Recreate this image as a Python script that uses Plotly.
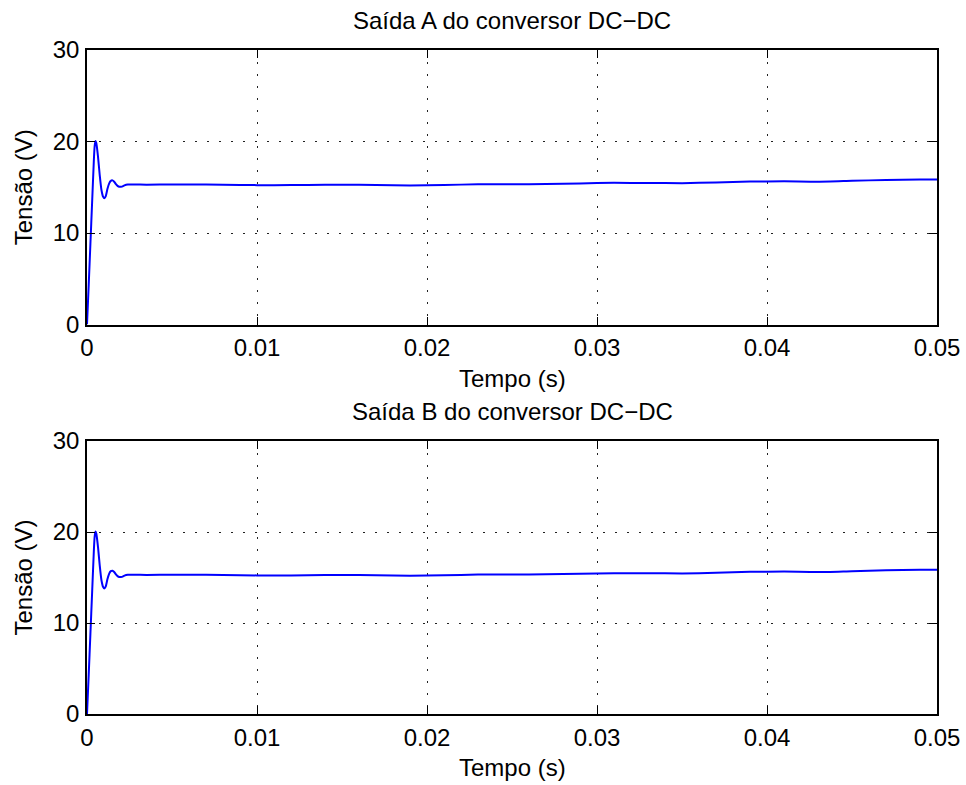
import plotly.graph_objects as go
from plotly.subplots import make_subplots

# time in seconds
t_s = [0, 0.0001, 0.0002, 0.0003, 0.0004, 0.00045, 0.0005, 0.00055, 0.00065, 0.00075,
       0.00085, 0.00095, 0.00102, 0.0011, 0.0012, 0.0013, 0.0014, 0.0015, 0.0016, 0.0017,
       0.0018, 0.0019, 0.002, 0.0021, 0.0022, 0.0024, 0.0027, 0.0035, 0.005, 0.007,
       0.009, 0.011, 0.013, 0.015, 0.017, 0.019, 0.021, 0.023, 0.025, 0.027,
       0.029, 0.031, 0.033, 0.035, 0.037, 0.039, 0.041, 0.043, 0.045, 0.047,
       0.049, 0.05]

saida_a = [0, 4.3, 8.8, 13.3, 17.8, 19.5, 20.05, 19.8, 18.3, 16.3,
           14.7, 13.95, 13.8, 14.0, 14.8, 15.4, 15.7, 15.75, 15.6, 15.35,
           15.15, 15.05, 15.05, 15.1, 15.2, 15.3, 15.3, 15.28, 15.3, 15.3,
           15.25, 15.22, 15.25, 15.28, 15.25, 15.2, 15.25, 15.32, 15.33, 15.35,
           15.42, 15.48, 15.47, 15.45, 15.52, 15.62, 15.65, 15.6, 15.7, 15.8,
           15.85, 15.85]

saida_b = [0, 4.3, 8.8, 13.3, 17.8, 19.5, 20.05, 19.8, 18.3, 16.3,
           14.7, 13.95, 13.8, 14.0, 14.8, 15.4, 15.7, 15.75, 15.6, 15.35,
           15.15, 15.05, 15.05, 15.1, 15.2, 15.3, 15.3, 15.28, 15.3, 15.3,
           15.25, 15.22, 15.25, 15.28, 15.25, 15.2, 15.25, 15.32, 15.33, 15.35,
           15.42, 15.48, 15.47, 15.45, 15.52, 15.62, 15.65, 15.6, 15.7, 15.8,
           15.85, 15.85]

x_ticks = [0, 0.01, 0.02, 0.03, 0.04, 0.05]
x_tick_labels = ["0", "0.01", "0.02", "0.03", "0.04", "0.05"]
y_ticks = [0, 10, 20, 30]

titles = ["Saída A do conversor DC−DC", "Saída B do conversor DC−DC"]
x_title = "Tempo (s)"
y_title = "Tensão (V)"

FONT = "Liberation Sans, Arial, Helvetica, sans-serif"
FS = 24

W, H = 966, 785
L, R = 87, 937
T, B = 50, 714
PH = B - T
PW = R - L

def py(p):
    return (B - p) / PH

def px(p):
    return (p - L) / PW

# plot boxes (page pixels)
boxes = [(50, 324.5), (441, 714)]
doms = [[py(boxes[0][1]), 1.0], [0.0, py(boxes[1][0])]]

fig = make_subplots(rows=2, cols=1)
for i, vals in enumerate([saida_a, saida_b]):
    fig.add_trace(go.Scatter(x=t_s, y=vals, mode="lines",
                             line=dict(color="#0000ff", width=2, shape="spline", smoothing=0.6),
                             showlegend=False, hoverinfo="skip"), row=i + 1, col=1)

axis_common = dict(
    showline=True, linecolor="black", linewidth=1.5, mirror="ticks",
    ticks="inside", ticklen=8, tickwidth=1, tickcolor="black",
    showgrid=True, gridcolor="#222222", gridwidth=1, griddash="1.5px,10.5px",
    zeroline=False, automargin=False, ticklabeloverflow="allow",
    tickfont=dict(family=FONT, size=FS, color="black"),
)

for i in range(2):
    n = "" if i == 0 else "2"
    fig.layout["xaxis" + n].update(range=[0, 0.05], tickvals=x_ticks, ticktext=x_tick_labels,
                                   ticklabelstandoff=1, **axis_common)
    fig.layout["yaxis" + n].update(range=[0, 30], tickvals=y_ticks, domain=doms[i],
                                   ticklabelstandoff=1, **axis_common)
    top, bot = boxes[i]
    fig.add_annotation(x=0.5, y=py(top - 31), xref="paper", yref="paper", text=titles[i],
                       showarrow=False, yanchor="middle", yshift=-1,
                       font=dict(family=FONT, size=FS, color="black"))
    fig.add_annotation(x=0.5, y=py(bot + 54), xref="paper", yref="paper", text=x_title,
                       showarrow=False, yanchor="middle", yshift=0,
                       font=dict(family=FONT, size=FS, color="black"))
    fig.add_annotation(x=px(23), y=py((top + bot) / 2), xref="paper", yref="paper", text=y_title,
                       showarrow=False, xanchor="center", yanchor="middle", textangle=-90,
                       font=dict(family=FONT, size=FS, color="black"))

fig.update_layout(
    width=W, height=H,
    margin=dict(l=L, r=W - R, t=T, b=H - B, autoexpand=False),
    paper_bgcolor="white", plot_bgcolor="white",
    hovermode=False,
)

fig.write_html("out.html", config={"displayModeBar": False},
               post_script="document.body.style.margin='0';document.body.style.overflow='hidden';")
